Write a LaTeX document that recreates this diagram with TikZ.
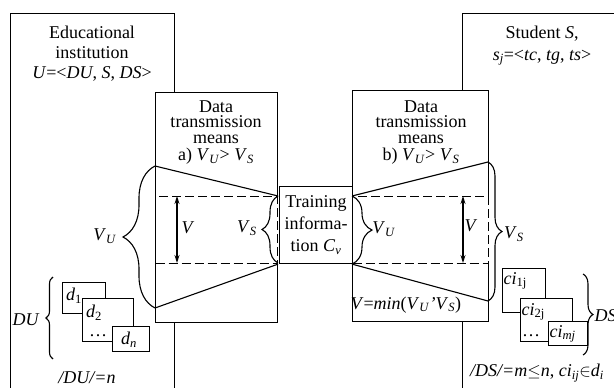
\documentclass[tikz,border=0pt]{standalone}
\usepackage{fontspec}
\setmainfont{Liberation Serif}
\usetikzlibrary{arrows.meta,decorations.pathreplacing}
\newcommand\vsub[1]{\textit{V}\textsubscript{\textit{#1}}}
\begin{document}
\begin{tikzpicture}[x=1pt,y=-1pt,line width=1.1pt,
  font=\fontsize{18}{20}\selectfont,
  box/.style={draw,fill=white,inner sep=0pt,anchor=north west},
  dbox/.style={box,dash pattern=on 9pt off 4pt},
  lbl/.style={inner sep=0pt},
  txt/.style={inner sep=0pt,align=center},
  vbrace/.style={decorate,decoration={brace,amplitude=#1}},
  varrow/.style={{Stealth[length=8pt,width=5pt]}-{Stealth[length=8pt,width=5pt]},line width=1.1pt}]
\useasboundingbox (0,0) rectangle (614,388);
\clip (0,0) rectangle (614,388);

% outer frames: institution and student
\node[box,minimum width=164pt,minimum height=400pt] (edu) at (10,13) {};
\node[box,minimum width=200pt,minimum height=400pt] (stu) at (462,13) {};
\node[txt,anchor=north] (eduT) at (92,25)
  {Educational\\institution\\\textit{U}=<\textit{DU}, \textit{S}, \textit{DS}>};
\node[txt,anchor=north,font=\fontsize{18}{22}\selectfont] (stuT) at (542,25)
  {Student \textit{S},\\\textit{s}\textsubscript{\textit{j}}=<\textit{tc}, \textit{tg}, \textit{ts}>};

% data transmission means
\node[box,minimum width=122pt,minimum height=230pt] (meansA) at (155,92) {};
\node[box,minimum width=136pt,minimum height=231pt] (meansB) at (352,90) {};
\node[txt,anchor=north,font=\fontsize{18}{15.5}\selectfont] (meansAT) at (216,100)
  {Data\\transmission\\means\\[2pt]a) \vsub{U}> \vsub{S}};
\node[txt,anchor=north,font=\fontsize{18}{15.5}\selectfont] (meansBT) at (421,100)
  {Data\\transmission\\means\\[2pt]b) \vsub{U}> \vsub{S}};

% channel bands
\node[dbox,minimum width=122pt,minimum height=67pt] (dashA) at (155,196) {};
\node[dbox,minimum width=136pt,minimum height=67pt] (dashB) at (352,196) {};

\coordinate (aTop) at (155,166);
\coordinate (aBot) at (155,308);
\coordinate (bTop) at (488,162);
\coordinate (bBot) at (488,301);
\draw (aTop) -- (dashA.north east);
\draw (aBot) -- (dashA.south east);
\draw (dashB.north west) -- (bTop);
\draw (dashB.south west) -- (bBot);

% training information
\node[box,minimum width=73pt,minimum height=77pt] (train) at (279,186) {};
\node[txt,font=\fontsize{18}{22}\selectfont] (trainT) at (train.center)
  {Training\\informa-\\tion \textit{C}\textsubscript{\textit{v}}};

% braces
\coordinate (sTop) at (278,196);
\coordinate (sBot) at (278,263);
\draw[vbrace=32] (aBot) -- (aTop);
\draw[vbrace=16] (sBot) -- (sTop);
\draw[vbrace=20] (dashB.north west) -- (dashB.south west);
\draw[vbrace=14] (bTop) -- (bBot);

% volume arrows
\coordinate (aV1) at (177,196);
\coordinate (aV2) at (177,263);
\coordinate (bV1) at (463,196);
\coordinate (bV2) at (463,263);
\draw[varrow] (aV1) -- (aV2);
\draw[varrow] (bV1) -- (bV2);

\node[lbl] (lVU) at (105,236) {\vsub{U}};
\node[lbl] (lV) at (188,228) {\textit{V}};
\node[lbl] (lVS) at (247,228) {\vsub{S}};
\node[lbl] (rVU) at (384,229) {\vsub{U}};
\node[lbl] (rV) at (471,226) {\textit{V}};
\node[lbl] (rVS) at (514,234) {\vsub{S}};
\node[lbl] (vmin) at (406,305)
  {\textit{V}=\textit{min}(\vsub{U}\textit{’}\vsub{S})};

% documents of the institution
\node[box,minimum width=43pt,minimum height=31pt] (d1) at (62,282) {};
\node[lbl] (d1T) at (74,296) {\textit{d}\textsubscript{1}};
\node[box,minimum width=51pt,minimum height=43pt] (d2) at (82,298) {};
\node[lbl] (d2T) at (94,313) {\textit{d}\textsubscript{2}};
\node[lbl] (d2D) at (98,336) {\dots};
\node[box,minimum width=37pt,minimum height=25pt] (dn) at (112,326) {};
\node[lbl] (dnT) at (129,340) {\textit{d}\textsubscript{\textit{n}}};
\coordinate (du1) at (53,277);
\coordinate (du2) at (53,359);
\draw[vbrace=7] (du2) -- (du1);
\node[lbl] (duL) at (26,320) {\textit{DU}};
\node[lbl] (duN) at (87,378) {\itshape /DU/=n};

% documents of the student
\node[box,minimum width=43pt,minimum height=44pt] (c1) at (502,268) {};
\node[lbl,anchor=west] (c1T) at (503,281) {\textit{ci}\textsubscript{1j}};
\node[box,minimum width=52pt,minimum height=43pt] (c2) at (520,298) {};
\node[lbl,anchor=west] (c2T) at (521,312) {\textit{ci}\textsubscript{2j}};
\node[lbl] (c2D) at (531,336) {\dots};
\node[box,minimum width=39pt,minimum height=24pt] (cm) at (548,321) {};
\node[lbl,anchor=west] (cmT) at (549,334) {\textit{ci}\textsubscript{\textit{mj}}};
\coordinate (ds1) at (583,274);
\coordinate (ds2) at (583,355);
\draw[vbrace=10] (ds1) -- (ds2);
\node[lbl,anchor=west] (dsL) at (594,316) {\textit{DS}};
\node[lbl] (dsN) at (537,373)
  {\textit{/DS/=m}$\le$\textit{n}, \textit{ci}\textsubscript{\textit{ij}}$\in$\textit{d}\textsubscript{\textit{i}}};
\end{tikzpicture}
\end{document}
